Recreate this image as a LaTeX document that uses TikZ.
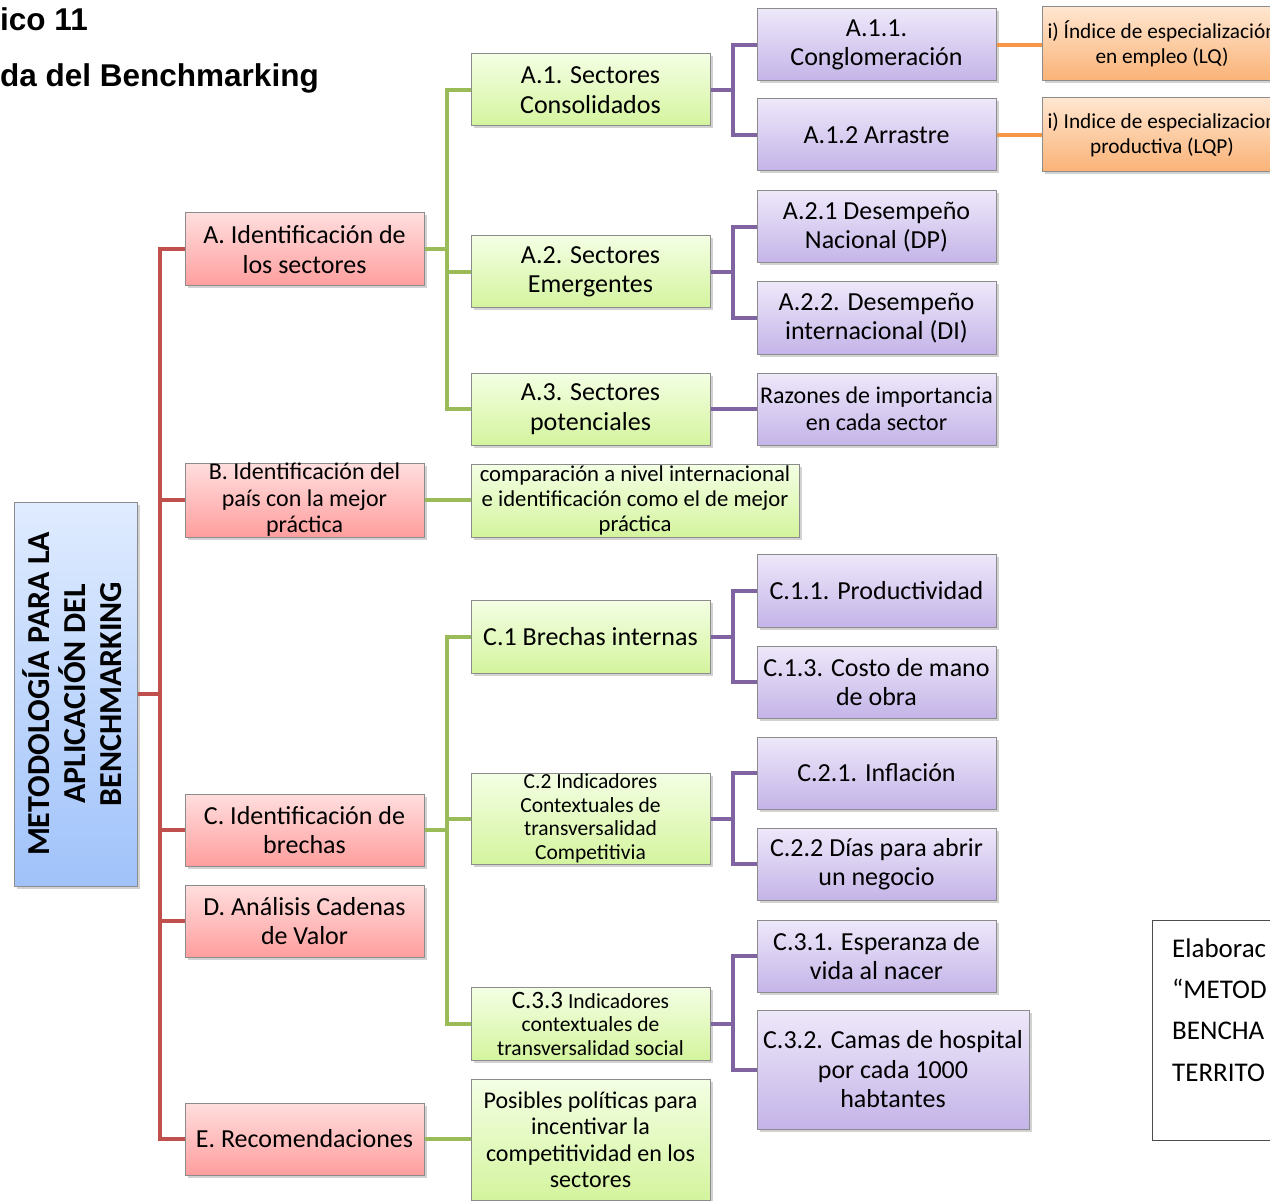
\documentclass[tikz,border=0pt]{standalone}
\usepackage{fontspec}
\setmainfont{Carlito}
\newfontfamily\titlefont{Liberation Sans}
\usetikzlibrary{shadows}
\definecolor{redln}{HTML}{C0504D}
\definecolor{greenln}{HTML}{9BBB59}
\definecolor{purpleln}{HTML}{8064A2}
\definecolor{orangeln}{HTML}{F79646}
\definecolor{redtop}{RGB}{255,222,222}
\definecolor{redbot}{RGB}{255,158,158}
\definecolor{greentop}{RGB}{244,255,228}
\definecolor{greenbot}{RGB}{212,244,158}
\definecolor{purtop}{RGB}{238,232,250}
\definecolor{purbot}{RGB}{196,180,232}
\definecolor{orgtop}{RGB}{255,230,208}
\definecolor{orgbot}{RGB}{250,178,118}
\definecolor{bluetop}{RGB}{224,236,255}
\definecolor{bluebot}{RGB}{160,194,250}
\tikzset{
  basebox/.style={draw=black!45, line width=1pt, align=center, inner sep=0pt,
    minimum width=239, minimum height=73,
    drop shadow={shadow xshift=2.5pt, shadow yshift=-2.5pt, opacity=0.35},
    font=\fontsize{26}{29.5}\selectfont},
  redbox/.style={basebox, top color=redtop, bottom color=redbot},
  greenbox/.style={basebox, top color=greentop, bottom color=greenbot},
  purbox/.style={basebox, top color=purtop, bottom color=purbot},
  orgbox/.style={basebox, top color=orgtop, bottom color=orgbot, font=\fontsize{21.3}{25}\selectfont},
  rootbox/.style={basebox, top color=bluetop, bottom color=bluebot, minimum width=123, minimum height=384},
  redline/.style={draw=redln, line width=4pt},
  greenline/.style={draw=greenln, line width=4pt},
  purline/.style={draw=purpleln, line width=4pt},
  orgline/.style={draw=orangeln, line width=4.5pt},
}
\begin{document}
\begin{tikzpicture}[x=1pt,y=-1pt]
\clip (0,0) rectangle (1270,1201);
\fill[white] (0,0) rectangle (1270,1201);

% title fragments
\node[anchor=base west, inner sep=0pt, font=\titlefont\bfseries\fontsize{31.5}{36}\selectfont] (t1) at (0,31) {ico 11};
\node[anchor=base west, inner sep=0pt, font=\titlefont\bfseries\fontsize{31.5}{36}\selectfont] (t2) at (0,87) {da del Benchmarking};

\coordinate (rt) at (160,694);
\coordinate (gA) at (447,249.5);
\coordinate (gC) at (447,830);
\coordinate (pA1) at (733,90);
\coordinate (pA2) at (733,272);
\coordinate (pC1) at (733,636.5);
\coordinate (pC2) at (733,818.5);
\coordinate (pC3) at (733,1023.5);

% ---------- nodes ----------
\node[rootbox] (root) at (75.5,694) {};
\node[rotate=90, align=center, inner sep=0pt, font=\bfseries\fontsize{32}{36}\selectfont] (roottxt) at (72,694) {METODOLOGÍA PARA LA\\APLICACIÓN DEL\\BENCHMARKING};

\node[redbox] (A) at (304.5,249.5) {A. Identificación de\\los sectores};
\node[redbox, minimum height=74, font=\fontsize{24}{26.5}\selectfont] (B) at (304.5,500) {B. Identificación del\\país con la mejor\\práctica};
\node[redbox, minimum height=72] (C) at (304.5,830) {C. Identificación de\\brechas};
\node[redbox, minimum height=72] (D) at (304.5,921) {D. Análisis Cadenas\\de Valor};
\node[redbox, minimum height=72] (E) at (304.5,1139) {E. Recomendaciones};

\node[greenbox, minimum height=72] (A1) at (590.5,90) {A.1. Sectores\\Consolidados};
\node[greenbox, minimum height=72] (A2) at (590.5,272) {A.2. Sectores\\Emergentes};
\node[greenbox, minimum height=72] (A3) at (590.5,409) {A.3. Sectores\\potenciales};
\node[greenbox, minimum width=328, font=\fontsize{22.7}{25}\selectfont] (B1) at (635,500.5) {comparación a nivel internacional\\e identificación como el de mejor\\práctica};
\node[greenbox] (C1) at (590.5,636.5) {C.1 Brechas internas};
\node[greenbox, minimum height=91, font=\fontsize{21.5}{23.5}\selectfont] (C2) at (590.5,818.5) {C.2 Indicadores\\Contextuales de\\transversalidad\\Competitivia};
\node[greenbox, font=\fontsize{21.5}{23.5}\selectfont] (C33) at (590.5,1023.5) {{\fontsize{25}{23.5}\selectfont C.3.3} Indicadores\\contextuales de\\transversalidad social};
\node[greenbox, minimum height=121, font=\fontsize{24}{26.5}\selectfont] (E1) at (590.5,1139.5) {Posibles políticas para\\incentivar la\\competitividad en los\\sectores};

\node[purbox, minimum height=72] (A11) at (876.5,45) {A.1.1.\\Conglomeración};
\node[purbox, minimum height=72] (A12) at (876.5,135) {A.1.2 Arrastre};
\node[purbox, minimum height=72] (A21) at (876.5,227) {A.2.1 Desempeño\\Nacional (DP)};
\node[purbox, minimum height=72] (A22) at (876.5,318) {A.2.2. Desempeño\\internacional (DI)};
\node[purbox, minimum height=72, font=\fontsize{24}{27}\selectfont] (R) at (876.5,409) {Razones de importancia\\en cada sector};
\node[purbox] (C11) at (876.5,590.5) {C.1.1. Productividad};
\node[purbox, minimum height=72] (C13) at (876.5,682) {C.1.3. Costo de mano\\de obra};
\node[purbox, minimum height=72] (C21) at (876.5,773) {C.2.1. Inflación};
\node[purbox, minimum height=72] (C22) at (876.5,864) {C.2.2 Días para abrir\\un negocio};
\node[purbox, minimum height=72] (C31) at (876.5,956) {C.3.1. Esperanza de\\vida al nacer};
\node[purbox, minimum width=272, minimum height=119] (C32) at (893,1069.5) {C.3.2. Camas de hospital\\por cada 1000\\habtantes};

\node[orgbox, minimum width=240, minimum height=74] (O1) at (1162,44) {i) Índice de especialización\\en empleo (LQ)};
\node[orgbox, minimum width=240, minimum height=74] (O2) at (1162,135) {i) Indice de especializacion\\productiva (LQP)};

% ---------- connectors ----------
\draw[redline] (root.east) -- (rt);
\draw[redline] (rt) |- (A.west);
\draw[redline] (rt) |- (B.west);
\draw[redline] (rt) |- (C.west);
\draw[redline] (rt) |- (D.west);
\draw[redline] (rt) |- (E.west);

\draw[greenline] (A.east) -- (gA);
\draw[greenline] (gA) |- (A1.west);
\draw[greenline] (gA) |- (A2.west);
\draw[greenline] (gA) |- (A3.west);
\draw[greenline] (B.east) -- (B.east -| B1.west);
\draw[greenline] (C.east) -- (gC);
\draw[greenline] (gC) |- (C1.west);
\draw[greenline] (gC) |- (C2.west);
\draw[greenline] (gC) |- (C33.west);
\draw[greenline] (E.east) -- (E.east -| E1.west);

\draw[purline] (A1.east) -- (pA1);
\draw[purline] (pA1) |- (A11.west);
\draw[purline] (pA1) |- (A12.west);
\draw[purline] (A2.east) -- (pA2);
\draw[purline] (pA2) |- (A21.west);
\draw[purline] (pA2) |- (A22.west);
\draw[purline] (A3.east) -- (R.west);
\draw[purline] (C1.east) -- (pC1);
\draw[purline] (pC1) |- (C11.west);
\draw[purline] (pC1) |- (C13.west);
\draw[purline] (C2.east) -- (pC2);
\draw[purline] (pC2) |- (C21.west);
\draw[purline] (pC2) |- (C22.west);
\draw[purline] (C33.east) -- (pC3);
\draw[purline] (pC3) |- (C31.west);
\draw[purline] (pC3) |- (C32.west);

\draw[orgline] (A11.east) -- (A11.east -| O1.west);
\draw[orgline] (A12.east) -- (A12.east -| O2.west);

% ---------- note box ----------
\node[draw=black!70, line width=1pt, anchor=north west, minimum width=140, minimum height=220, inner sep=0pt] (note) at (1152,920) {};
\node[anchor=base west, inner sep=0pt, font=\fontsize{27}{41}\selectfont] (n1) at (1172,957) {Elaborac};
\node[anchor=base west, inner sep=0pt, font=\fontsize{27}{41}\selectfont] (n2) at (1172,998) {“METOD};
\node[anchor=base west, inner sep=0pt, font=\fontsize{27}{41}\selectfont] (n3) at (1172,1039) {BENCHA};
\node[anchor=base west, inner sep=0pt, font=\fontsize{27}{41}\selectfont] (n4) at (1172,1081) {TERRITO};
\end{tikzpicture}
\end{document}
